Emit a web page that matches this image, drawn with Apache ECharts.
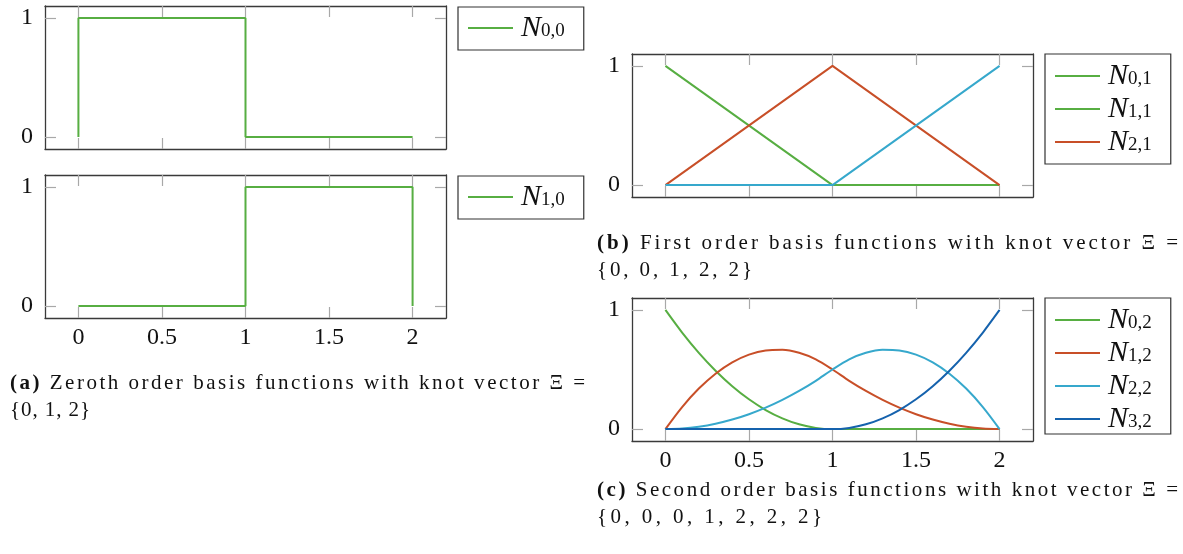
<!DOCTYPE html>
<html><head><meta charset="utf-8">
<script src="https://cdn.jsdelivr.net/npm/echarts@6/dist/echarts.min.js"></script>
<style>html,body{margin:0;padding:0;background:#fff}#c{width:1183px;height:554px}</style>
</head><body><div id="c"></div>
<script>
// ticks
const xTicks = [0, 0.5, 1, 1.5, 2];
const yTicks = [0, 1];
// (a) zeroth order
const aX0 = [0, 0, 1, 1, 2];
const aN00 = [0, 1, 1, 0, 0];
const aX1 = [0, 1, 1, 2, 2];
const aN10 = [0, 0, 1, 1, 0];
// (b) first order
const bX = [0, 1, 2];
const bN01 = [1, 0, 0];
const bN21 = [0, 1, 0];
const bBlue = [0, 0, 1];
// (c) second order
const cX = [0, 0.1, 0.2, 0.3, 0.4, 0.5, 0.6, 0.7, 0.8, 0.9, 1, 1.1, 1.2, 1.3, 1.4, 1.5, 1.6, 1.7, 1.8, 1.9, 2];
const cN02 = [1, 0.81, 0.64, 0.49, 0.36, 0.25, 0.16, 0.09, 0.04, 0.01, 0, 0, 0, 0, 0, 0, 0, 0, 0, 0, 0];
const cN12 = [0, 0.185, 0.34, 0.465, 0.56, 0.625, 0.66, 0.665, 0.64, 0.585, 0.5, 0.405, 0.32, 0.245, 0.18, 0.125, 0.08, 0.045, 0.02, 0.005, 0];
const cN22 = [0, 0.005, 0.02, 0.045, 0.08, 0.125, 0.18, 0.245, 0.32, 0.405, 0.5, 0.585, 0.64, 0.665, 0.66, 0.625, 0.56, 0.465, 0.34, 0.185, 0];
const cN32 = [0, 0, 0, 0, 0, 0, 0, 0, 0, 0, 0, 0.01, 0.04, 0.09, 0.16, 0.25, 0.36, 0.49, 0.64, 0.81, 1];
// captions
const capA = ['(a)', ' Zeroth order basis functions with knot vector Ξ =', '{0, 1, 2}'];
const capB = ['(b)', ' First order basis functions with knot vector Ξ =', '{0, 0, 1, 2, 2}'];
const capC = ['(c)', ' Second order basis functions with knot vector Ξ =', '{0, 0, 0, 1, 2, 2, 2}'];

const GREEN = '#57ae42', RED = '#c84f28', CYAN = '#36a8cc', NAVY = '#1562ad';
const SERIF = "'Liberation Serif', 'DejaVu Serif', serif";
const CAPSIZE = 21;
const pairs = (xs, ys) => xs.map((x, i) => [x, ys[i]]);

const grids = [
  {left: 45, top: 6, width: 401, height: 143},
  {left: 45, top: 175, width: 401, height: 143},
  {left: 632, top: 54, width: 401, height: 143},
  {left: 632, top: 298, width: 401, height: 143}
];
const showXLabels = [false, true, false, true];
const xAxis = [], yAxis = [];
grids.forEach((g, i) => {
  const line = {show: true, onZero: false, lineStyle: {color: '#3a3a3a', width: 1.3}};
  const tick = {show: true, inside: true, length: 11, lineStyle: {color: '#a8a8a8', width: 1.2}};
  const lab = {color: '#111', fontFamily: SERIF, fontSize: 24};
  xAxis.push({type: 'value', gridIndex: i, position: 'bottom', min: -0.2, max: 2.2,
    axisLine: line, axisTick: Object.assign({customValues: xTicks}, tick),
    axisLabel: Object.assign({show: showXLabels[i], customValues: xTicks, margin: 8}, lab),
    splitLine: {show: false}});
  xAxis.push({type: 'value', gridIndex: i, position: 'top', min: -0.2, max: 2.2,
    axisLine: line, axisTick: Object.assign({customValues: xTicks}, tick),
    axisLabel: {show: false}, splitLine: {show: false}});
  yAxis.push({type: 'value', gridIndex: i, position: 'left', min: -0.1, max: 1.1,
    axisLine: line, axisTick: Object.assign({customValues: yTicks}, tick),
    axisLabel: Object.assign({show: true, customValues: yTicks, margin: 12}, lab),
    splitLine: {show: false}});
  yAxis.push({type: 'value', gridIndex: i, position: 'right', min: -0.1, max: 1.1,
    axisLine: line, axisTick: Object.assign({customValues: yTicks}, tick),
    axisLabel: {show: false}, splitLine: {show: false}});
});

function ser(name, gi, data, color, smooth) {
  return {type: 'line', name: name, xAxisIndex: 2 * gi, yAxisIndex: 2 * gi, data: data,
    showSymbol: false, symbol: 'none', smooth: smooth ? 0.3 : false, color: color,
    lineStyle: {color: color, width: 2}, animation: false, silent: true};
}
const series = [
  ser('N0,0', 0, pairs(aX0, aN00), GREEN),
  ser('N1,0', 1, pairs(aX1, aN10), GREEN),
  ser('N0,1', 2, pairs(bX, bN01), GREEN),
  ser('N1,1', 2, [], GREEN),
  ser('N2,1', 2, pairs(bX, bN21), RED),
  ser('blue1', 2, pairs(bX, bBlue), CYAN),
  ser('N0,2', 3, pairs(cX, cN02), GREEN, true),
  ser('N1,2', 3, pairs(cX, cN12), RED, true),
  ser('N2,2', 3, pairs(cX, cN22), CYAN, true),
  ser('N3,2', 3, pairs(cX, cN32), NAVY, true)
];

const legTxt = {rich: {
  n: {fontFamily: SERIF, fontStyle: 'italic', fontSize: 30, lineHeight: 26, color: '#111'},
  s: {fontFamily: SERIF, fontSize: 19, lineHeight: 18, verticalAlign: 'bottom', color: '#111'}
}, padding: [0, 0, 0, 3]};
function leg(names, left, top, padding) {
  return {data: names, left: left, top: top, orient: 'vertical', padding: padding,
    itemWidth: 45, itemHeight: 2, itemGap: 3, icon: 'rect', selectedMode: false,
    borderColor: '#333', borderWidth: 1.2, borderRadius: 0, textStyle: legTxt,
    formatter: n => '{n|N}{s|' + n.slice(1) + '}'};
}
const legend = [
  leg(['N0,0'], 458, 7, [6, 19, 7, 10]),
  leg(['N1,0'], 458, 176, [6, 19, 7, 10]),
  leg(['N0,1', 'N1,1', 'N2,1'], 1045, 54, [7, 19, 7, 10]),
  leg(['N0,2', 'N1,2', 'N2,2', 'N3,2'], 1045, 298, [7, 19, 0, 10])
];

// letter-spaced caption text, built from per-character rich tokens
const mctx = document.createElement('canvas').getContext('2d');
function spaced(chars, targetW, rich, tag) {
  let total = 0;
  chars.forEach(o => {
    mctx.font = (o.bold ? 'bold ' : '') + CAPSIZE + 'px ' + SERIF;
    o.w = mctx.measureText(o.c).width; total += o.w;
  });
  const e = Math.max(0, (targetW - total) / (chars.length - 1));
  let out = '';
  chars.forEach((o, i) => {
    if (i === chars.length - 1) { out += o.c; return; }
    const key = tag + (o.bold ? 'B' : 'R') + o.c.charCodeAt(0);
    if (!rich[key]) rich[key] = {fontFamily: SERIF, fontSize: CAPSIZE, fontWeight: o.bold ? 'bold' : 'normal',
      color: '#111', lineHeight: 27, width: o.w + e};
    out += '{' + key + '|' + o.c + '}';
  });
  return out;
}
function cap(parts, left, top, w1, w2, tag) {
  const rich = {};
  const c1 = [...parts[0]].map(c => ({c: c, bold: true})).concat([...parts[1]].map(c => ({c: c, bold: false})));
  const l1 = spaced(c1, w1, rich, tag + '1');
  const l2 = spaced([...parts[2]].map(c => ({c: c, bold: false})), w2, rich, tag + '2');
  return {left: left, top: top, padding: 0, text: l1 + '\n' + l2,
    textStyle: {fontFamily: SERIF, fontSize: CAPSIZE, fontWeight: 'normal', color: '#111', lineHeight: 27, rich: rich}};
}
const title = [cap(capA, 10, 370, 575, 80, 'a'), cap(capB, 597, 230, 581, 155, 'b'), cap(capC, 597, 477, 581, 225, 'c')];

const chart = echarts.init(document.getElementById('c'), null, {renderer: 'canvas'});
chart.setOption({animation: false, backgroundColor: '#fff', grid: grids, xAxis: xAxis, yAxis: yAxis,
  series: series, legend: legend, title: title});
</script></body></html>
